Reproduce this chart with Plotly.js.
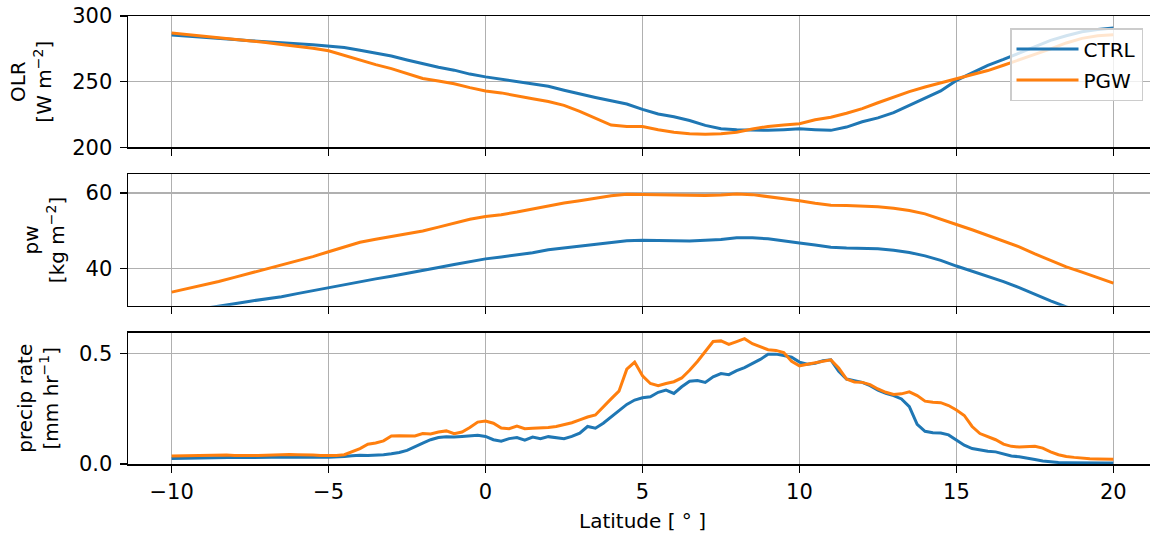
<!DOCTYPE html>
<html>
<head>
<meta charset="utf-8">
<script src="https://cdn.plot.ly/plotly-3.0.1.min.js"></script>
<style>
html,body{margin:0;padding:0;overflow:hidden;background:#fff;width:1150px;height:536px;}
#chart{width:1170px;height:536px;}
</style>
</head>
<body>
<div id="chart"></div>
<script>
// Latitude grids
const latCoarse = [-10,-9.5,-9,-8.5,-8,-7.5,-7,-6.5,-6,-5.5,-5,-4.5,-4,-3.5,-3,-2.5,-2,-1.5,-1,-0.5,
  0,0.5,1,1.5,2,2.5,3,3.5,4,4.5,5,5.5,6,6.5,7,7.5,8,8.5,9,9.5,
  10,10.5,11,11.5,12,12.5,13,13.5,14,14.5,15,15.5,16,16.5,17,17.5,18,18.5,19,19.5,20];
const latFine = [
  -10,-9.75,-9.5,-9.25,-9,-8.75,-8.5,-8.25,
  -8,-7.75,-7.5,-7.25,-7,-6.75,-6.5,-6.25,
  -6,-5.75,-5.5,-5.25,-5,-4.75,-4.5,-4.25,
  -4,-3.75,-3.5,-3.25,-3,-2.75,-2.5,-2.25,
  -2,-1.75,-1.5,-1.25,-1,-0.75,-0.5,-0.25,
  0,0.25,0.5,0.75,1,1.25,1.5,1.75,
  2,2.25,2.5,2.75,3,3.25,3.5,3.75,
  4,4.25,4.5,4.75,5,5.25,5.5,5.75,
  6,6.25,6.5,6.75,7,7.25,7.5,7.75,
  8,8.25,8.5,8.75,9,9.25,9.5,9.75,
  10,10.25,10.5,10.75,11,11.25,11.5,11.75,
  12,12.25,12.5,12.75,13,13.25,13.5,13.75,
  14,14.25,14.5,14.75,15,15.25,15.5,15.75,
  16,16.25,16.5,16.75,17,17.25,17.5,17.75,
  18,18.25,18.5,18.75,19,19.25,19.5,19.75,
  20];

// OLR [W m^-2]
const olrCTRL = [285.5,284.8,284,283,282.2,281.2,280.3,279.5,278.8,278.2,277.3,276,274,272,269.5,266.5,263.5,261,258.8,255.8,
  253.7,252,250,248.5,246.5,243.5,240.5,238,235.5,233,229,225.5,223.3,220.5,216.8,214.3,213.5,213,213,213.5,
  214.2,213.5,213,215.5,219.5,222.5,226.5,232,237.5,243,251,257,262.5,267,272,277,281.5,285,288,289.8,290.8];
const olrPGW = [287,285.8,284.8,283.6,282.5,281,279.8,278.3,277,275.5,273.5,270,266,263,260,256,252.5,250.5,248.5,245.5,
  243,241.5,239,237,235,232,227.5,222.5,217,216,216,213.5,211.5,210.5,210,210.5,211.5,214,216,217,
  218,221,223,226,229.5,234,238.5,242.5,246,249,252,255,258.5,262.5,266.5,270.5,275,279.5,283,285,285.8];

// Precipitable water [kg m^-2]
const pwCTRL = [28.2,28.8,29.4,30.0,30.7,31.4,32,32.6,33.4,34.2,35,35.8,36.6,37.3,38,38.7,39.4,40.3,41.1,41.9,
  42.6,43.1,43.6,44.2,45,45.5,46,46.4,47,47.4,47.5,47.5,47.4,47.3,47.4,47.7,48.2,48.2,47.9,47.3,
  46.8,46.3,45.7,45.5,45.5,45.3,44.9,44.3,43.4,42.2,40.7,39.4,38,36.6,35,33.2,31.5,29.9,28.5,27.3,26];
const pwPGW = [33.8,34.7,35.6,36.6,37.7,38.8,39.9,40.9,42,43.2,44.5,45.8,47,47.8,48.5,49.2,50,51,52.1,53.1,
  53.8,54.3,55,55.8,56.8,57.4,58,58.6,59.3,59.7,59.6,59.5,59.4,59.3,59.4,59.5,59.8,59.6,59.1,58.5,
  58,57.3,56.8,56.7,56.6,56.4,56,55.4,54.5,53.2,51.7,50.3,48.8,47.4,45.8,43.9,42.2,40.5,39.1,37.7,36.2];

// Precipitation rate [mm hr^-1]
const prCTRL = [
  0.025,0.026,0.027,0.028,0.028,0.029,0.030,0.029,
  0.030,0.031,0.029,0.030,0.030,0.031,0.031,0.032,
  0.031,0.032,0.033,0.032,0.031,0.031,0.034,0.037,
  0.040,0.038,0.039,0.042,0.046,0.052,0.062,0.080,
  0.095,0.110,0.120,0.124,0.122,0.125,0.126,0.130,
  0.125,0.110,0.103,0.115,0.120,0.108,0.122,0.115,
  0.124,0.120,0.115,0.125,0.140,0.170,0.162,0.185,
  0.212,0.240,0.270,0.290,0.300,0.305,0.325,0.335,
  0.320,0.350,0.375,0.378,0.370,0.395,0.410,0.405,
  0.423,0.437,0.455,0.474,0.497,0.498,0.492,0.484,
  0.462,0.452,0.457,0.468,0.472,0.420,0.385,0.378,
  0.370,0.355,0.335,0.320,0.310,0.295,0.260,0.180,
  0.148,0.142,0.140,0.132,0.110,0.085,0.070,0.063,
  0.058,0.055,0.045,0.036,0.033,0.028,0.020,0.014,
  0.010,0.007,0.006,0.005,0.005,0.004,0.004,0.004,
  0.004];
const prPGW = [
  0.036,0.037,0.037,0.038,0.039,0.038,0.040,0.041,
  0.039,0.040,0.039,0.038,0.040,0.042,0.043,0.043,
  0.042,0.043,0.041,0.038,0.037,0.038,0.042,0.055,
  0.070,0.090,0.095,0.105,0.127,0.128,0.126,0.127,
  0.138,0.136,0.145,0.150,0.137,0.145,0.165,0.190,
  0.195,0.185,0.163,0.160,0.172,0.160,0.162,0.163,
  0.165,0.170,0.178,0.187,0.200,0.213,0.222,0.260,
  0.295,0.330,0.430,0.462,0.400,0.365,0.355,0.365,
  0.373,0.390,0.425,0.465,0.510,0.555,0.558,0.542,
  0.555,0.568,0.545,0.530,0.518,0.515,0.505,0.465,
  0.445,0.452,0.459,0.468,0.472,0.435,0.385,0.372,
  0.370,0.360,0.340,0.325,0.315,0.318,0.327,0.310,
  0.285,0.280,0.278,0.265,0.245,0.220,0.170,0.138,
  0.123,0.110,0.090,0.080,0.077,0.080,0.080,0.072,
  0.055,0.042,0.034,0.030,0.026,0.024,0.023,0.022,
  0.022];

const seriesNames = ['CTRL', 'PGW'];
const colors = ['#1f77b4', '#ff7f0e'];
const xTitle = 'Latitude [ ° ]';
const yTitles = ['OLR<br>[W m<sup>−2</sup>]', 'pw<br>[kg m<sup>−2</sup>]', 'precip rate<br>[mm hr<sup>−1</sup>]'];

const LW = 3;
function tr(x, y, i, xa, ya, show) {
  return {x: x, y: y, type: 'scatter', mode: 'lines', name: seriesNames[i],
    line: {color: colors[i], width: LW}, xaxis: xa, yaxis: ya,
    showlegend: show, legendgroup: 'g' + i};
}
const data = [
  tr(latCoarse, olrCTRL, 0, 'x', 'y', true),
  tr(latCoarse, olrPGW, 1, 'x', 'y', true),
  tr(latCoarse, pwCTRL, 0, 'x2', 'y2', false),
  tr(latCoarse, pwPGW, 1, 'x2', 'y2', false),
  tr(latFine, prCTRL, 0, 'x3', 'y3', false),
  tr(latFine, prPGW, 1, 'x3', 'y3', false)
];

const TICKFONT = {family: 'DejaVu Sans', size: 21, color: '#000'};
const TITLEFONT = {family: 'DejaVu Sans', size: 20, color: '#000'};
const xRange = [-11.39, 21.39];
function xax(anchor, labels) {
  return {anchor: anchor, domain: [0, 1], range: xRange, tick0: 0, dtick: 5,
    showline: true, mirror: true, linecolor: '#000', linewidth: 1.5,
    ticks: 'outside', ticklen: 7, tickwidth: 1.5, tickcolor: '#000',
    tickfont: TICKFONT, ticklabelstandoff: 1,
    showgrid: true, gridcolor: '#b0b0b0', gridwidth: 1.5, zeroline: false,
    showticklabels: labels, automargin: false};
}
function yax(anchor, domain, range, dtick, title, fmt) {
  return {anchor: anchor, domain: domain, range: range, dtick: dtick, tick0: 0,
    tickformat: fmt, tickfont: TICKFONT, ticklabelstandoff: 3,
    showline: true, mirror: true, linecolor: '#000', linewidth: 1.5,
    ticks: 'outside', ticklen: 7, tickwidth: 1.5, tickcolor: '#000',
    showgrid: true, gridcolor: '#b0b0b0', gridwidth: 1.5, zeroline: false,
    automargin: false,
    title: {text: title, standoff: 15, font: TITLEFONT}};
}

const layout = {
  width: 1170, height: 536,
  margin: {l: 128, r: 13, t: 16, b: 72},
  paper_bgcolor: '#fff', plot_bgcolor: '#fff',
  font: {family: 'DejaVu Sans', size: 20, color: '#000'},
  showlegend: true,
  legend: {x: 0.9864, y: 0.9732, xanchor: 'right', yanchor: 'top',
    bgcolor: 'rgba(255,255,255,0.8)', bordercolor: '#cccccc', borderwidth: 1.5,
    font: {family: 'DejaVu Sans', size: 20, color: '#000'}, tracegroupgap: 2, itemwidth: 62},
  xaxis: xax('y', false),
  xaxis2: xax('y2', false),
  xaxis3: Object.assign(xax('y3', true), {title: {text: xTitle, standoff: 11, font: TITLEFONT}}),
  yaxis: yax('x', [0.7066, 1], [200, 300], 50, yTitles[0], ''),
  yaxis2: yax('x2', [0.3533, 0.6468], [30.2, 65.0], 20, yTitles[1], ''),
  yaxis3: yax('x3', [0, 0.2935], [0, 0.596], 0.5, yTitles[2], '.1f')
};

Plotly.newPlot('chart', data, layout, {displayModeBar: false, staticPlot: true});
</script>
</body>
</html>
